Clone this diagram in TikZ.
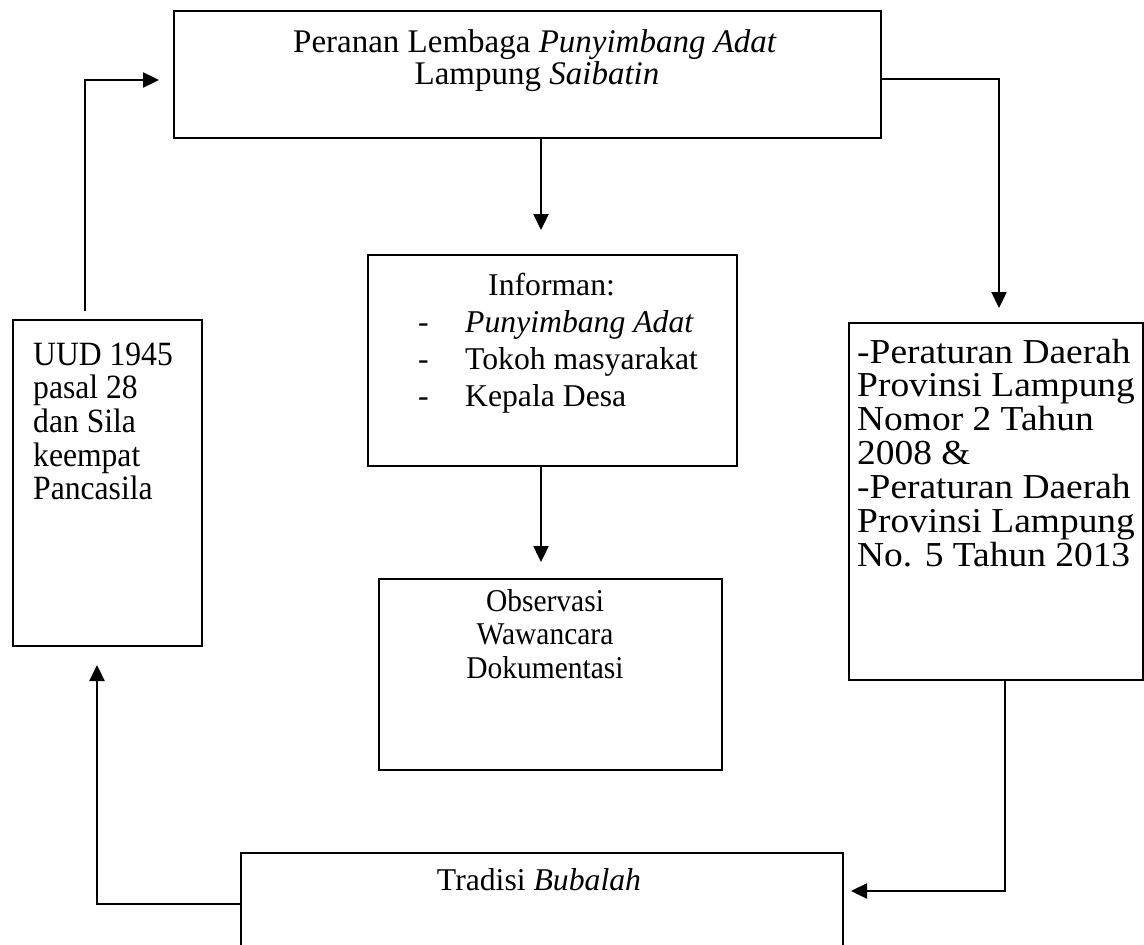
\documentclass[tikz,border=0pt]{standalone}
\usepackage{fontspec}
\setmainfont{Liberation Serif}
\newfontfamily\condA[FakeStretch=0.93]{Liberation Serif}
\newfontfamily\condB[FakeStretch=0.93]{Liberation Serif}
\newfontfamily\wideR[FakeStretch=1.07]{Liberation Serif}
\usetikzlibrary{arrows.meta}
\newcommand{\LeftLines}[1]{\begin{tabular}[t]{@{}l@{}}#1\end{tabular}}
\newcommand{\CenterLines}[1]{\begin{tabular}[t]{@{}c@{}}#1\end{tabular}}
\begin{document}
\begin{tikzpicture}[x=1pt,y=-1pt,
  box/.style={draw,line width=2pt,inner sep=0pt,anchor=north west},
  txt/.style={inner sep=0pt,font=\fontsize{31.7}{33.6}\selectfont},
  txtwide/.style={inner sep=0pt,font=\fontsize{31.7}{37.2}\selectfont},
  txttop/.style={inner sep=0pt,font=\fontsize{33}{33.6}\selectfont},
  txtbig/.style={inner sep=0pt,font=\wideR\fontsize{35}{33.5}\selectfont},
  txtleft/.style={inner sep=0pt,font=\condA\fontsize{34}{33.7}\selectfont},
  txtobs/.style={inner sep=0pt,font=\condB\fontsize{31.7}{33.5}\selectfont},
  conn/.style={line width=2.4pt,-{Triangle[length=16pt,width=15pt]}}]
\useasboundingbox (0,0) rectangle (1144,945);
\clip (0,0) rectangle (1144,945);
% boxes
\node[box,minimum width=707pt,minimum height=127pt] (top) at (173,10) {};
\node[box,minimum width=189pt,minimum height=326pt] (left) at (12,319) {};
\node[box,minimum width=369pt,minimum height=211pt] (info) at (367,254) {};
\node[box,minimum width=343pt,minimum height=191pt] (obs) at (378,578) {};
\node[box,minimum width=294pt,minimum height=357pt] (right) at (848,322) {};
\node[box,minimum width=602pt,minimum height=140pt] (trad) at (240,852) {};
% texts
\node[txttop,anchor=base] (t1) at (535,52) {Peranan Lembaga \textit{Punyimbang Adat}};
\node[txttop,anchor=base] (t2) at (537,84) {Lampung \textit{Saibatin}};
\node[txtleft,anchor=base west] (lefttext) at (33,365) {\LeftLines{UUD 1945\\pasal 28\\dan Sila\\keempat\\Pancasila}};
\node[txt,anchor=base west] (infohead) at (488,295) {Informan:};
\node[txtwide,anchor=base west] (infolist) at (418,332) {\begin{tabular}[t]{@{}p{47pt}@{}l@{}}-&\textit{Punyimbang Adat}\\-&Tokoh masyarakat\\-&Kepala Desa\end{tabular}};
\node[txtobs,anchor=base] (obstext) at (545,611) {\CenterLines{Observasi\\Wawancara\\Dokumentasi}};
\node[txtbig,anchor=base west] (righttext) at (857,363) {\LeftLines{-Peraturan Daerah\\Provinsi Lampung\\Nomor 2 Tahun\\2008 \&\\-Peraturan Daerah\\Provinsi Lampung\\No. 5 Tahun 2013}};
\node[txt,anchor=base] (tradtext) at (539,890) {Tradisi \textit{Bubalah}};
% connectors
\draw[conn,shorten >=24pt] ([xshift=13.5pt]top.south) -- ([xshift=-11.5pt]info.north);
\draw[conn,shorten >=16pt] ([xshift=-11.5pt]info.south) -- ([xshift=-9.5pt]obs.north);
\draw[conn,shorten >=14pt] ([yshift=-4.5pt]top.east) -| ([xshift=3pt]right.north);
\draw[conn,shorten >=7pt] ([xshift=9pt]right.south) |- ([yshift=32pt]trad.east);
\draw[conn,shorten >=18pt] ([yshift=19pt]trad.west) -| ([xshift=-10.5pt]left.south);
\draw[conn,shorten >=14pt] ([xshift=-22.5pt,yshift=8pt]left.north) |- ([yshift=-5.5pt]top.west);
\end{tikzpicture}
\end{document}
